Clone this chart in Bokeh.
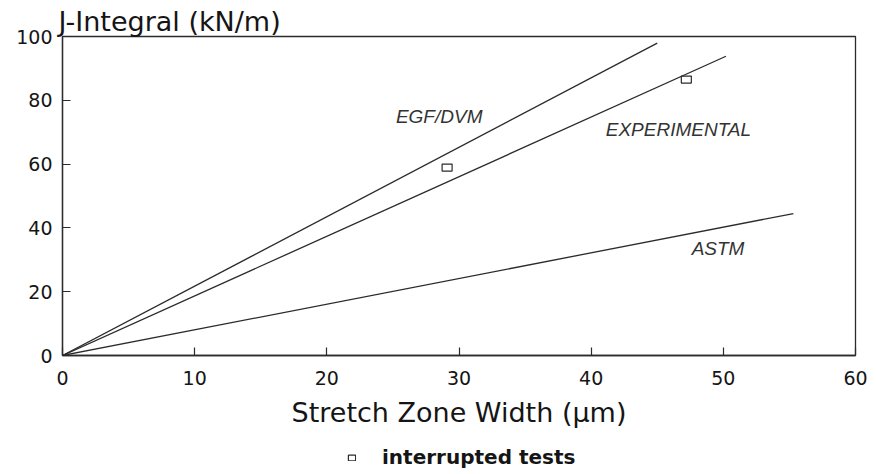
from bokeh.plotting import figure
from bokeh.models import Range1d, Legend, LegendItem, FixedTicker
from bokeh.layouts import column
from bokeh.core.properties import value
from bokeh.embed import file_html
from bokeh.resources import INLINE

# ---- data ----
methods = ["EGF/DVM", "EXPERIMENTAL", "ASTM"]
line_szw_end = [45.0, 50.2, 55.3]      # stretch zone width at line end (µm)
line_j_end = [97.9, 93.8, 44.5]        # J-integral at line end (kN/m)
label_szw = [28.5, 46.6, 49.6]
label_j = [74.9, 70.8, 33.5]

test_szw = [29.1, 47.2]                # interrupted tests
test_j = [58.9, 86.5]

x_ticks = [0, 10, 20, 30, 40, 50, 60]
y_ticks = [0, 20, 40, 60, 80, 100]

INK = "#2b2b2b"
TXT = "#151515"

p = figure(width=868, height=436, x_range=Range1d(0, 60), y_range=Range1d(0, 100),
           output_backend="svg", toolbar_location=None,
           min_border_left=62, min_border_right=13, min_border_top=36, min_border_bottom=81)

p.grid.visible = False
p.outline_line_color = INK
p.outline_line_width = 1.3
p.background_fill_color = "white"
p.border_fill_color = "white"

# title acting as y-axis label
p.title.text = "J-Integral (kN/m)"
p.title.align = "left"
p.title.offset = -4
p.title.text_font = "DejaVu Sans"
p.title.text_font_size = "27px"
p.title.text_font_style = "normal"
p.title.text_color = TXT
p.title.standoff = 0

for ax in (p.xaxis[0], p.yaxis[0]):
    ax.axis_line_color = INK
    ax.axis_line_width = 1.3
    ax.major_tick_line_color = INK
    ax.major_tick_line_width = 1.2
    ax.major_tick_in = 8
    ax.major_tick_out = 0
    ax.minor_tick_line_color = None
    ax.major_label_text_font = "DejaVu Sans"
    ax.major_label_text_font_size = "19px"
    ax.major_label_text_color = TXT

p.xaxis.ticker = FixedTicker(ticks=x_ticks)
p.yaxis.ticker = FixedTicker(ticks=y_ticks)
p.xaxis.major_label_standoff = 15
p.yaxis.major_label_standoff = 10

p.xaxis.axis_label = "Stretch Zone Width (\u03bcm)"
p.xaxis.axis_label_text_font = "DejaVu Sans"
p.xaxis.axis_label_text_font_size = "27px"
p.xaxis.axis_label_text_font_style = "normal"
p.xaxis.axis_label_text_color = TXT
p.xaxis.axis_label_standoff = 9

# lines from origin
xs = [[0, x] for x in line_szw_end]
ys = [[0, y] for y in line_j_end]
p.multi_line(xs=xs, ys=ys, line_color=INK, line_width=1.3)

p.text(x=label_szw, y=label_j, text=methods,
       text_font=value("Liberation Sans"), text_font_style="italic",
       text_font_size="19px", text_align="center", text_baseline="middle",
       text_color="#333333")

p.rect(x=test_szw, y=test_j, width=10, height=7, width_units="screen",
       height_units="screen", fill_color=None, line_color=INK, line_width=1.2)

# legend strip under the chart (its frame is aligned with the chart's frame)
p2 = figure(width=868, height=34, output_backend="svg", toolbar_location=None,
            min_border=0, x_range=Range1d(0, 1), y_range=Range1d(0, 1))
p2.axis.visible = False
p2.grid.visible = False
p2.outline_line_color = None
p2.border_fill_color = "white"
# same test points, outside this strip's view: only the legend swatch shows
r2 = p2.rect(x=test_szw, y=test_j, width=10, height=7, width_units="screen",
             height_units="screen", fill_color=None, line_color=INK, line_width=1.2)
legend = Legend(items=[LegendItem(label="interrupted tests", renderers=[r2])],
                location=(285, 1), orientation="horizontal",
                label_text_font="DejaVu Sans", label_text_font_style="bold",
                label_text_font_size="20px", label_text_color=TXT,
                glyph_width=9, glyph_height=7, label_height=14, label_standoff=26,
                border_line_color=None, background_fill_alpha=0,
                padding=0, margin=0, spacing=0)
p2.add_layout(legend, "center")

open("out.html", "w").write(file_html(column(p, p2, spacing=0), INLINE))
